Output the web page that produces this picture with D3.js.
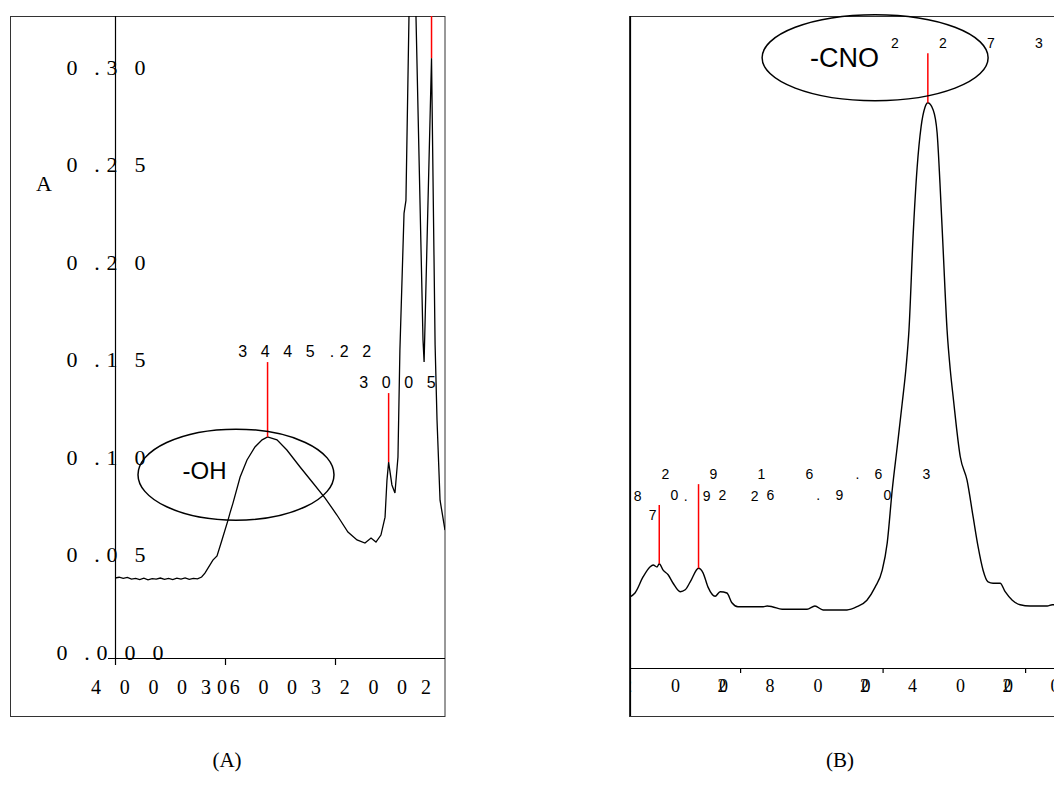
<!DOCTYPE html>
<html><head><meta charset="utf-8">
<script src="https://cdn.jsdelivr.net/npm/d3@7"></script>
<style>html,body{margin:0;padding:0;background:#fff;} svg{display:block;}</style>
</head><body><svg id="c" width="1054" height="811"></svg>
<script>
// ---------- Panel A data (wavenumber cm-1, absorbance) ----------
const aWavenumber = [4000,3985,3970,3955,3940,3925,3910,3895,3880,3865,3850,3835,3820,3805,3790,3775,3760,3745,3730,3715,3700,3685,3673,3644,3629,3611,3589,3582,3571,3545,3520,3491,3465,3445.22,3411,3375,3327,3280,3236,3193,3153,3120,3091,3069,3051,3033,3018,3011,3005,2993,2982,2971,2964,2949,2942,2920,2880,2876,2849,2836,2829,2818,2800];
const aAbsorbance = [0.0380,0.0384,0.0378,0.0383,0.0374,0.0378,0.0372,0.0379,0.0371,0.0377,0.0374,0.0380,0.0373,0.0378,0.0372,0.0379,0.0374,0.0381,0.0373,0.0378,0.0376,0.0385,0.0405,0.0472,0.0493,0.0575,0.0677,0.0713,0.0764,0.0898,0.0985,0.1052,0.1088,0.1103,0.1088,0.1036,0.0949,0.0867,0.0790,0.0703,0.0616,0.0575,0.0559,0.0585,0.0564,0.0600,0.0692,0.0882,0.0974,0.0857,0.0816,0.1000,0.1548,0.2249,0.2316,0.4200,0.1600,0.1487,0.3045,0.1574,0.1189,0.0779,0.0626];
const aPeakWavenumbers = [3445.22, 3005, 2849];
const aPeakValues = [0.1103, 0.0974, 0.3045];
const aPeakLabelLevels = [0.1487, 0.1328, 0.40];
const aPeakLabels = ["3445.22", "3005", ""];
const aYTicks = [0.30, 0.25, 0.20, 0.15, 0.10, 0.05, 0];
const aYTickLabels = ["0.30", "0.25", "0.20", "0.15", "0.10", "0.05", "0.000"];
const aXTicks = [4000, 3600, 3200, 2800];
const aXTickLabels = ["4000.0", "3600", "3200", "2800"];

// ---------- Panel B data ----------
const bWavenumber = [3109,3095,3072,3053,3044,3033,3026.9,3016,3002,2988,2968,2954,2940,2916.63,2904,2890,2870,2856,2837,2823,2806,2735,2724,2710,2682,2612,2590,2567,2500,2472,2444,2421,2401,2387,2373,2359,2345,2334,2326,2314,2303,2292,2281,2273,2258,2247,2239,2230,2219,2210,2202,2182,2163,2146,2132,2118,2104,2090,2070,2056,2036,2014,1986,1938,1924,1874];
const bAbsorbance = [0.109,0.115,0.140,0.155,0.158,0.155,0.160,0.150,0.143,0.130,0.117,0.120,0.132,0.153,0.146,0.124,0.110,0.117,0.115,0.100,0.094,0.094,0.095,0.094,0.090,0.090,0.095,0.089,0.089,0.094,0.104,0.124,0.150,0.192,0.273,0.339,0.406,0.462,0.518,0.667,0.768,0.830,0.860,0.867,0.856,0.821,0.744,0.641,0.518,0.457,0.416,0.324,0.288,0.232,0.186,0.150,0.132,0.130,0.130,0.117,0.104,0.097,0.095,0.095,0.097,0.097];
const bPeakWavenumbers = [2273, 2916.63, 3026.90, 3398.92, 3357];
const bPeakValues = [0.867, 0.153, 0.160, 0.2, 0.2];
const bPeakLabelLevels = [0.943, 0.282, 0.250, 0.248, 0.219];
const bPeakLabels = ["2273", "2916.63", "3026.90", "3398.92", "3357"];
const bXTicks = [3200, 2800, 2400, 2000, 1600];
const bXTickLabels = ["3200", "2800", "2400", "2000", "1600"];

const svg = d3.select("#c");
const serif = "'Liberation Serif','Times New Roman',serif";
const sans = "'Liberation Sans',Arial,sans-serif";

function charXs(str, x0, pDigit, pToDot, pFromDot) {
  const xs = []; let x = x0;
  for (let i = 0; i < str.length; i++) {
    xs.push(+x.toFixed(1));
    const c = str[i], n = str[i + 1];
    x += (c === '.') ? pFromDot : (n === '.' ? pToDot : pDigit);
  }
  return xs;
}
function spaced(g, str, x0, y, pd, ptd, pfd, font, size) {
  return g.append("text").attr("x", charXs(str, x0, pd, ptd, pfd).join(" "))
    .attr("y", y).attr("dy", "0.35em").attr("text-anchor", "middle")
    .attr("font-family", font).attr("font-size", size).attr("fill", "#000").text(str);
}

const defs = svg.append("defs");

// ================= Panel A =================
const A = {left: 115, right: 445, top: 16, bottom: 658};
const xA = d3.scaleLinear().domain([4000, 2800]).range([A.left, A.right]);
const yA = d3.scaleLinear().domain([-0.003, 0.3261]).range([A.bottom, A.top]);

svg.append("rect").attr("x", 10.5).attr("y", 16.5).attr("width", 434.5).attr("height", 700)
  .attr("fill", "none").attr("stroke", "#333").attr("stroke-width", 1);

defs.append("clipPath").attr("id", "clipA").append("rect")
  .attr("x", A.left).attr("y", A.top).attr("width", A.right - A.left).attr("height", A.bottom - A.top);
defs.append("clipPath").attr("id", "clipAx").append("rect")
  .attr("x", 11).attr("y", 0).attr("width", A.right - 11).attr("height", 811);

// axes
svg.append("line").attr("x1", 108).attr("x2", A.right).attr("y1", A.bottom + 0.5).attr("y2", A.bottom + 0.5)
  .attr("stroke", "#000").attr("stroke-width", 1.2);
svg.append("line").attr("x1", A.left + 0.5).attr("x2", A.left + 0.5).attr("y1", A.top).attr("y2", A.bottom)
  .attr("stroke", "#000").attr("stroke-width", 1.2);
const axA = svg.append("g").attr("transform", `translate(0,${A.bottom})`)
  .call(d3.axisBottom(xA).tickValues(aXTicks.slice(0, 3)).tickSize(7).tickSizeOuter(0).tickFormat(""));
axA.select(".domain").remove();
axA.selectAll(".tick line").attr("stroke", "#000").attr("stroke-width", 1.2);

// y tick labels
aYTicks.forEach((v, i) => {
  const s = aYTickLabels[i];
  spaced(svg, s, 72 - 10 * (s.length - 4), yA(v), 28, 25, 15, serif, 22);
});
svg.append("text").attr("x", 44).attr("y", 183).attr("dy", "0.35em").attr("text-anchor", "middle")
  .attr("font-family", serif).attr("font-size", 22).text("A");

// x tick labels (clipped at the right border of panel A)
const gAx = svg.append("g").attr("clip-path", "url(#clipAx)");
aXTicks.forEach((t, i) => {
  spaced(gAx, aXTickLabels[i], xA(t) - 19, 687, 28.7, 26, 14, serif, 20);
});

const gA = svg.append("g").attr("clip-path", "url(#clipA)");
const dataA = aWavenumber.map((w, i) => [w, aAbsorbance[i]]);
gA.append("path").datum(dataA)
  .attr("d", d3.line().x(d => xA(d[0])).y(d => yA(d[1])))
  .attr("fill", "none").attr("stroke", "#000").attr("stroke-width", 1.3);

aPeakWavenumbers.forEach((w, i) => {
  gA.append("line").attr("x1", xA(w)).attr("x2", xA(w))
    .attr("y1", yA(aPeakLabelLevels[i])).attr("y2", yA(aPeakValues[i]))
    .attr("stroke", "#ff0000").attr("stroke-width", 1.5);
  if (aPeakLabels[i]) spaced(gA, aPeakLabels[i], xA(w) - 25, yA(aPeakLabelLevels[i]) - 11, 22.5, 22, 12, sans, 16);
});

// -OH ellipse
const ohX = xA(3560), ohY = yA(0.091);
svg.append("ellipse").attr("cx", ohX).attr("cy", ohY).attr("rx", 98).attr("ry", 45.5)
  .attr("fill", "none").attr("stroke", "#000").attr("stroke-width", 1.5);
svg.append("text").attr("x", ohX - 31.5).attr("y", ohY - 4.5).attr("dy", "0.35em").attr("text-anchor", "middle")
  .attr("font-family", sans).attr("font-size", 24).text("-OH");

svg.append("text").attr("x", 227).attr("y", 760).attr("dy", "0.35em").attr("text-anchor", "middle")
  .attr("font-family", serif).attr("font-size", 21).text("(A)");

// ================= Panel B =================
const B = {left: 630, right: 1070, top: 16, bottom: 668};
const xB = d3.scaleLinear().domain([3109, 1874]).range([B.left, B.right]);
const yB = d3.scaleLinear().domain([0, 1]).range([B.bottom, B.top]);

svg.append("rect").attr("x", 629.5).attr("y", 16.5).attr("width", 470).attr("height", 700)
  .attr("fill", "none").attr("stroke", "#333").attr("stroke-width", 1);

defs.append("clipPath").attr("id", "clipB").append("rect")
  .attr("x", B.left).attr("y", B.top).attr("width", 500).attr("height", B.bottom - B.top);
defs.append("clipPath").attr("id", "clipBx").append("rect")
  .attr("x", B.left).attr("y", 0).attr("width", 500).attr("height", 811);

svg.append("line").attr("x1", B.left).attr("x2", 1054).attr("y1", B.bottom + 0.5).attr("y2", B.bottom + 0.5)
  .attr("stroke", "#000").attr("stroke-width", 1.2);
svg.append("line").attr("x1", B.left + 0.5).attr("x2", B.left + 0.5).attr("y1", B.top).attr("y2", 716)
  .attr("stroke", "#000").attr("stroke-width", 1.2);
const axB = svg.append("g").attr("transform", `translate(0,${B.bottom})`)
  .call(d3.axisBottom(xB).tickValues(bXTicks.filter(t => t < 3109 && t > 1874)).tickSize(5).tickSizeOuter(0).tickFormat(""));
axB.select(".domain").remove();
axB.selectAll(".tick line").attr("stroke", "#000").attr("stroke-width", 1.2);

const gBx = svg.append("g").attr("clip-path", "url(#clipBx)");
bXTicks.forEach((t, i) => {
  spaced(gBx, bXTickLabels[i], xB(t) - 18, 686, 48, 48, 21, serif, 18);
});

const gB = svg.append("g").attr("clip-path", "url(#clipB)");
const dataB = bWavenumber.map((w, i) => [w, bAbsorbance[i]]);
gB.append("path").datum(dataB)
  .attr("d", d3.line().x(d => xB(d[0])).y(d => yB(d[1])).curve(d3.curveMonotoneX))
  .attr("fill", "none").attr("stroke", "#000").attr("stroke-width", 1.4);

bPeakWavenumbers.forEach((w, i) => {
  gB.append("line").attr("x1", xB(w)).attr("x2", xB(w))
    .attr("y1", yB(bPeakLabelLevels[i])).attr("y2", yB(bPeakValues[i]))
    .attr("stroke", "#ff0000").attr("stroke-width", 1.5);
  spaced(gB, bPeakLabels[i], xB(w) - 33, yB(bPeakLabelLevels[i]) - 10, 48, 48, 21, sans, 14);
});

// -CNO ellipse
const cnoX = xB(2421), cnoY = yB(0.936);
svg.append("ellipse").attr("cx", cnoX).attr("cy", cnoY).attr("rx", 113).attr("ry", 43)
  .attr("fill", "none").attr("stroke", "#000").attr("stroke-width", 1.5);
svg.append("text").attr("x", cnoX - 30.5).attr("y", cnoY).attr("dy", "0.35em").attr("text-anchor", "middle")
  .attr("font-family", sans).attr("font-size", 27).text("-CNO");

svg.append("text").attr("x", 840).attr("y", 760).attr("dy", "0.35em").attr("text-anchor", "middle")
  .attr("font-family", serif).attr("font-size", 21).text("(B)");
</script></body></html>
